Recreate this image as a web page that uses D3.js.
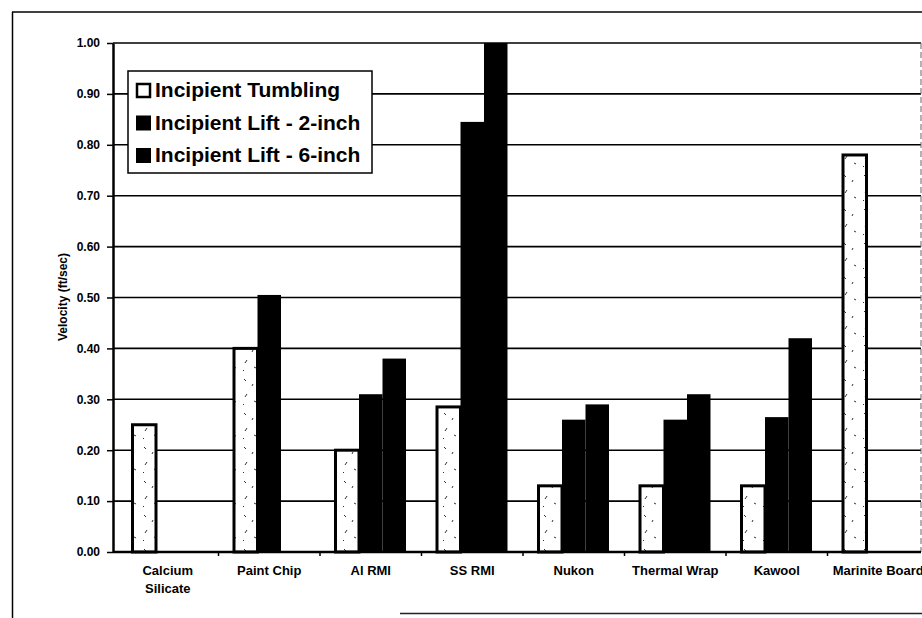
<!doctype html>
<html lang="en">
<head>
<meta charset="utf-8">
<title>Incipient velocity chart</title>
<style>
  body { margin: 0; background: #fff; }
  svg { display: block; font-family: "Liberation Sans", Arial, sans-serif; font-weight: bold; }
  .grid line { stroke: #000; stroke-width: 1.6px; }
  .axis path, .axis line { stroke: #000; }
  .axis--y path { stroke-width: 2.5px; }
  .axis--x path { stroke-width: 2.5px; }
</style>
</head>
<body>
<svg width="922" height="618"></svg>
<script src="https://cdn.jsdelivr.net/npm/d3@7"></script>
<script>

// data
var categories = ["Calcium Silicate", "Paint Chip", "Al RMI", "SS RMI", "Nukon", "Thermal Wrap", "Kawool", "Marinite Board"];
var seriesNames = ["Incipient Tumbling", "Incipient Lift - 2-inch", "Incipient Lift - 6-inch"];
var tumbling = [0.25, 0.40, 0.20, 0.285, 0.13, 0.13, 0.13, 0.78];
var lift2 = [null, 0.505, 0.31, 0.845, 0.26, 0.26, 0.265, null];
var lift6 = [null, null, 0.38, 1.00, 0.29, 0.31, 0.42, null];
var yTicks = [0, 0.1, 0.2, 0.3, 0.4, 0.5, 0.6, 0.7, 0.8, 0.9, 1.0];

var values = [tumbling, lift2, lift6];
var rows = [];
categories.forEach(function(c, i) {
  seriesNames.forEach(function(s, j) {
    if (values[j][i] != null) rows.push({cat: c, series: s, value: values[j][i]});
  });
});

var svg = d3.select("svg");
var plot = {left: 113, top: 43, right: 921, bottom: 552};

// chart frame (scan edges)
svg.append("line").attr("x1", 12).attr("y1", 12).attr("x2", 922).attr("y2", 12)
    .attr("stroke", "#000").attr("stroke-width", 1.5);
svg.append("line").attr("x1", 12.5).attr("y1", 12).attr("x2", 12.5).attr("y2", 618)
    .attr("stroke", "#000").attr("stroke-width", 1.5);
svg.append("line").attr("x1", 400).attr("y1", 613.5).attr("x2", 922).attr("y2", 613.5)
    .attr("stroke", "#222").attr("stroke-width", 1.5);

var x0 = d3.scaleBand().domain(categories).range([117, 929]).padding(0);
var x1 = d3.scaleBand().domain(seriesNames).range([0, x0.bandwidth()]).paddingInner(0).paddingOuter(0.66);
var y = d3.scaleLinear().domain([0, 1]).range([plot.bottom, plot.top]);

// speckle pattern for the tumbling bars
var defs = svg.append("defs");
var pat = defs.append("pattern").attr("id", "speck").attr("patternUnits", "userSpaceOnUse")
    .attr("width", 20).attr("height", 34);
pat.append("rect").attr("width", 20).attr("height", 34).attr("fill", "#fff");
[[4, 5, 6, 7], [12, 12, 13, 10], [7, 20, 5, 23], [14, 27, 16, 28], [3, 30, 4, 31]].forEach(function(d) {
  pat.append("line").attr("x1", d[0]).attr("y1", d[1]).attr("x2", d[2]).attr("y2", d[3])
      .attr("stroke", "#333").attr("stroke-width", 1);
});

// gridlines
svg.append("g").attr("class", "grid")
  .selectAll("line").data(yTicks.slice(1)).enter().append("line")
    .attr("x1", plot.left).attr("x2", plot.right)
    .attr("y1", function(d) { return y(d); }).attr("y2", function(d) { return y(d); });

// right plot edge
svg.append("line").attr("x1", plot.right).attr("x2", plot.right)
    .attr("y1", plot.top).attr("y2", plot.bottom)
    .attr("stroke", "#666").attr("stroke-width", 1).attr("stroke-dasharray", "6,3");

// bars
svg.append("g").selectAll("rect").data(rows).enter().append("rect")
    .attr("x", function(d) { return x0(d.cat) + x1(d.series); })
    .attr("y", function(d) { return y(d.value); })
    .attr("width", x1.bandwidth())
    .attr("height", function(d) { return plot.bottom - y(d.value); })
    .attr("fill", function(d) { return d.series === seriesNames[0] ? "url(#speck)" : "#000"; })
    .attr("stroke", function(d) { return d.series === seriesNames[0] ? "#000" : "none"; })
    .attr("stroke-width", 3);

// y axis
svg.append("g")
    .attr("class", "axis axis--y")
    .attr("transform", "translate(" + plot.left + ",0)")
    .call(d3.axisLeft(y).tickValues(yTicks).tickFormat(d3.format(".2f")).tickSize(6).tickPadding(7).tickSizeOuter(0))
    .call(function(g) {
      g.selectAll("text").style("font-size", "12px").style("font-weight", "bold").attr("fill", "#000")
          .style("font-family", "'Liberation Sans', Arial, sans-serif");
      g.selectAll("line").attr("stroke-width", 1.5);
    });

// x axis
var xAxis = svg.append("g")
    .attr("class", "axis axis--x")
    .attr("transform", "translate(0," + plot.bottom + ")");
xAxis.append("line").attr("x1", plot.left).attr("x2", plot.right)
    .attr("stroke", "#000").attr("stroke-width", 2.5);
xAxis.selectAll(".tk").data(categories.slice(1)).enter().append("line")
    .attr("x1", function(d) { return x0(d); }).attr("x2", function(d) { return x0(d); })
    .attr("y1", 0).attr("y2", 4).attr("stroke", "#000").attr("stroke-width", 1.5);

var labels = xAxis.selectAll(".lbl").data(categories).enter().append("text")
    .attr("text-anchor", "middle")
    .attr("x", function(d) { return x0(d) + x0.bandwidth() / 2; })
    .attr("y", 23)
    .style("font-size", "13px")
    .attr("fill", "#000");
labels.each(function(d) {
  var t = d3.select(this);
  var lines = d === "Calcium Silicate" ? d.split(" ") : [d];
  lines.forEach(function(s, i) {
    t.append("tspan").attr("x", t.attr("x")).attr("dy", i === 0 ? 0 : 18).text(s);
  });
});

// axis title
svg.append("text")
    .attr("transform", "translate(67,297) rotate(-90)")
    .attr("text-anchor", "middle")
    .style("font-size", "12px")
    .text("Velocity (ft/sec)");

// legend
var legend = svg.append("g").attr("transform", "translate(128,71)");
legend.append("rect").attr("width", 244).attr("height", 102)
    .attr("fill", "#fff").attr("stroke", "#000").attr("stroke-width", 1.5);
var item = legend.selectAll(".item").data(seriesNames).enter().append("g")
    .attr("transform", function(d, i) { return "translate(0," + (i * 32.5) + ")"; });
item.append("rect")
    .attr("x", function(d, i) { return i === 0 ? 9 : 8; })
    .attr("y", function(d, i) { return i === 0 ? 13 : 12; })
    .attr("width", function(d, i) { return i === 0 ? 13 : 15; })
    .attr("height", function(d, i) { return i === 0 ? 13 : 15; })
    .attr("fill", function(d, i) { return i === 0 ? "#fff" : "#000"; })
    .attr("stroke", "#000").attr("stroke-width", function(d, i) { return i === 0 ? 2.5 : 0; });
item.append("text")
    .attr("x", 27).attr("y", 26)
    .style("font-size", "21px")
    .text(function(d) { return d; });

</script>
</body>
</html>
